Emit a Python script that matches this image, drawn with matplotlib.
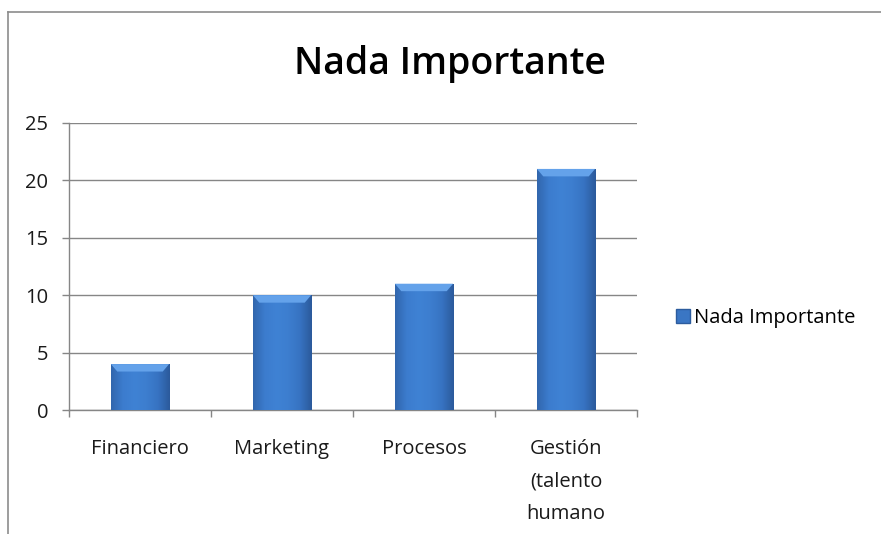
import numpy as np
import matplotlib
matplotlib.use("Agg")
import matplotlib.pyplot as plt
from matplotlib.colors import LinearSegmentedColormap
from matplotlib.patches import Polygon, Patch
from matplotlib.lines import Line2D

# data
categories = ["Financiero", "Marketing", "Procesos", "Gestión\n(talento\nhumano"]
values = [4, 10, 11, 21]
series_name = "Nada Importante"
y_ticks = [0, 5, 10, 15, 20, 25]

plt.rcParams.update({
    "font.family": ["Open Sans", "DejaVu Sans"],
    "font.size": 14.5,
})

fig = plt.figure(figsize=(8.81, 5.34), dpi=100)
ax = fig.add_axes([69 / 881, 1 - 410 / 534, 568 / 881, 287 / 534])

x = np.arange(len(categories))
bars = ax.bar(x, values, width=0.41, color="#3a76c4", zorder=3, linewidth=0)

# horizontal shading like the Excel bevel bars
shade = LinearSegmentedColormap.from_list(
    "bevel", ["#3166ad", "#3c7cce", "#3f82d4", "#3d7ecf", "#3773c2", "#2b5a9b"])
grad = np.linspace(0, 1, 128).reshape(1, -1)
for rect in bars:
    x0, w, h = rect.get_x(), rect.get_width(), rect.get_height()
    im = ax.imshow(grad, cmap=shade, aspect="auto", extent=(x0, x0 + w, 0, h),
                   zorder=3.1, interpolation="bilinear")
    im.set_clip_path(rect)
    dx, dy = 0.045, 0.65
    cap = Polygon([(x0, h), (x0 + w, h), (x0 + w - dx, h - dy), (x0 + dx, h - dy)],
                  closed=True, facecolor="#64a2ea", edgecolor="none", zorder=3.2)
    ax.add_patch(cap)

ax.set_xlim(-0.5, 3.5)
ax.set_ylim(0, 25)
ax.set_yticks(y_ticks)
ax.yaxis.grid(True, color="#868686", linewidth=1.0)
ax.set_axisbelow(True)

ax.set_xticks(x)
ax.set_xticklabels(categories, linespacing=1.82, va="top")
ax.set_xticks(np.arange(-0.5, 4.0, 1.0), minor=True)
ax.tick_params(axis="x", which="major", length=0, pad=21, colors="#1a1a1a")
ax.tick_params(axis="x", which="minor", length=5, width=1, color="#868686", direction="out")
ax.tick_params(axis="y", length=5, width=1, color="#868686", pad=10, colors="#1a1a1a")
ax.tick_params(axis="y", color="#868686")

for s in ["top", "right"]:
    ax.spines[s].set_visible(False)
for s in ["left", "bottom"]:
    ax.spines[s].set_color("#868686")
    ax.spines[s].set_linewidth(1.0)

fig.text(450 / 881, 1 - 64 / 534, series_name, ha="center", va="center",
         fontsize=27, fontweight="semibold", color="#000000")

handle = Patch(facecolor="#3a76c4", edgecolor="#2c5c9e", label=series_name)
fig.legend(handles=[handle], loc="center left",
           bbox_to_anchor=(676 / 881, 1 - 318 / 534), frameon=False,
           borderpad=0, borderaxespad=0, handlelength=0.7, handleheight=0.7,
           handletextpad=0.2, fontsize=14.5)

# chart frame (top and left edges visible)
fig.add_artist(Line2D([8 / 881, 1], [1 - 12 / 534, 1 - 12 / 534],
                      color="#8c8c8c", linewidth=1.2, transform=fig.transFigure))
fig.add_artist(Line2D([8 / 881, 8 / 881], [1 - 12 / 534, 0],
                      color="#8c8c8c", linewidth=1.2, transform=fig.transFigure))

fig.savefig("out.png", dpi=100)
